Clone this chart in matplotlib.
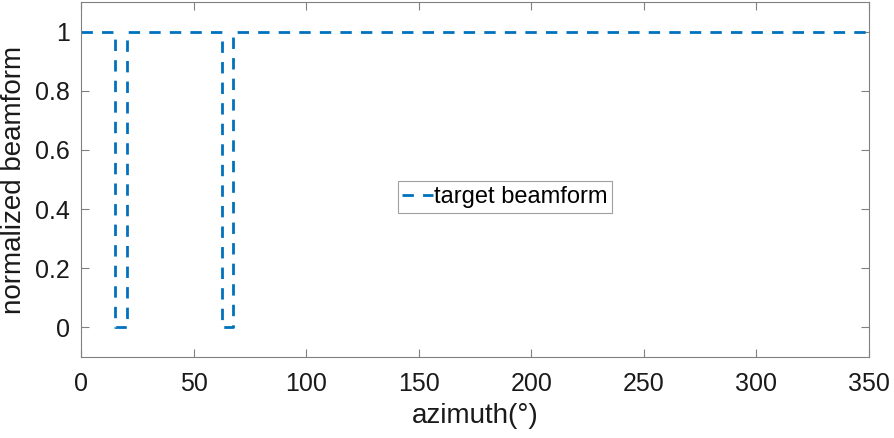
import numpy as np
import matplotlib
matplotlib.use('Agg')
import matplotlib.pyplot as plt

# beamform breakpoints (azimuth in degrees, normalized value)
azimuth = [0, 15, 15, 20.5, 20.5, 62.5, 62.5, 67.5, 67.5, 360]
beamform = [1, 1, 0, 0, 1, 1, 0, 0, 1, 1]

x_ticks = [0, 50, 100, 150, 200, 250, 300, 350]
y_ticks = [0, 0.2, 0.4, 0.6, 0.8, 1]
y_tick_labels = ['0', '0.2', '0.4', '0.6', '0.8', '1']

plt.rcParams['font.family'] = ['Liberation Sans', 'DejaVu Sans']

fig = plt.figure(figsize=(8.95, 4.38), dpi=100)
ax = fig.add_axes([0.0905, 0.185, 0.8805, 0.8105])

ax.plot(azimuth, beamform, color='#0072BD', linewidth=2.0,
        linestyle=(0, (4.1, 3.3)), label='target beamform')

ax.set_xlim(0, 350)
ax.set_ylim(-0.1, 1.1)
ax.set_xticks(x_ticks)
ax.set_yticks(y_ticks)
ax.set_yticklabels(y_tick_labels)

ax.tick_params(direction='in', length=5.8, width=0.8, color='#808080',
               labelsize=18, labelcolor='#1a1a1a', top=True, right=True)
ax.tick_params(axis='x', pad=11)
ax.tick_params(axis='y', pad=8)
for s in ax.spines.values():
    s.set_color('#808080')
    s.set_linewidth(0.8)

ax.set_xlabel('azimuth(°)', fontsize=20, color='#1a1a1a', labelpad=5)
ax.set_ylabel('normalized beamform', fontsize=20, color='#1a1a1a', labelpad=6)

leg = ax.legend(loc='center', bbox_to_anchor=(0.538, 0.45), fontsize=17,
                handlelength=1.3, handletextpad=0.05, borderpad=0.2,
                fancybox=False, framealpha=1, borderaxespad=0)
leg.get_frame().set_edgecolor('#a0a0a0')
leg.get_frame().set_linewidth(0.8)

fig.savefig('out.png', dpi=100)
